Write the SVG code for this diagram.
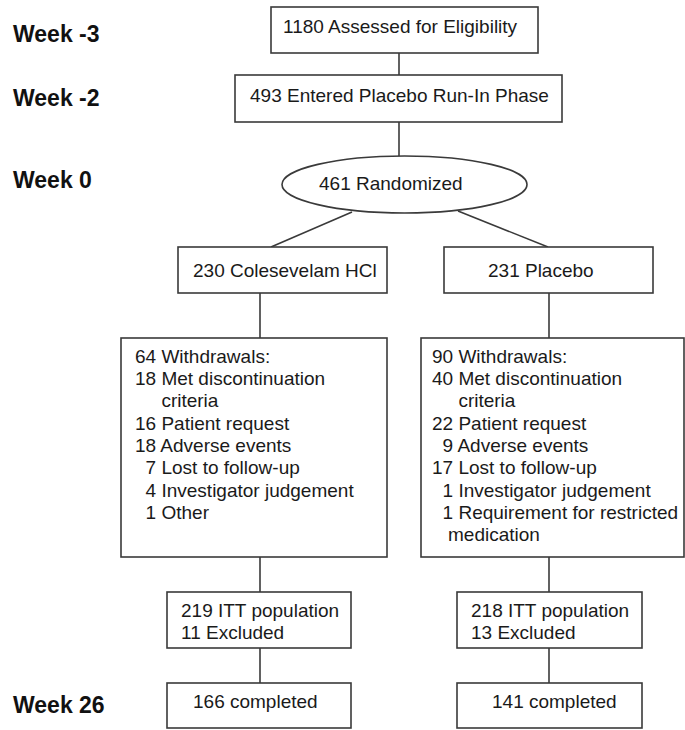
<svg xmlns="http://www.w3.org/2000/svg" width="685" height="730" viewBox="0 0 685 730">
<style>
.box{fill:#fff;stroke:#3a3a3a;stroke-width:1.6}
.ln{stroke:#3a3a3a;stroke-width:1.6;fill:none}
.t{font-family:"Liberation Sans",Arial,sans-serif;font-size:19px;fill:#1a1a1a}
.wk{font-family:"Liberation Sans",Arial,sans-serif;font-size:23px;font-weight:bold;fill:#111}
</style>
<rect width="685" height="730" fill="#fff"/>
<g id="week-labels">
<text class="wk" x="13" y="42">Week -3</text>
<text class="wk" x="13" y="106">Week -2</text>
<text class="wk" x="13" y="188">Week 0</text>
<text class="wk" x="13" y="713">Week 26</text>
</g>
<g id="connectors">
<line class="ln" x1="399" y1="53" x2="399" y2="75"/>
<line class="ln" x1="399" y1="122" x2="399" y2="156"/>
<line class="ln" x1="352" y1="212" x2="271" y2="247"/>
<line class="ln" x1="458" y1="211" x2="548" y2="247"/>
<line class="ln" x1="260" y1="293" x2="260" y2="338"/>
<line class="ln" x1="549" y1="293" x2="549" y2="338"/>
<line class="ln" x1="260" y1="557" x2="260" y2="592"/>
<line class="ln" x1="549" y1="557" x2="549" y2="592"/>
<line class="ln" x1="260" y1="648" x2="260" y2="683"/>
<line class="ln" x1="549" y1="648" x2="549" y2="683"/>
</g>
<g id="assessed">
<rect class="box" x="271" y="7" width="267" height="46"/>
<text class="t" x="283" y="33">1180 Assessed for Eligibility</text>
</g>
<g id="runin">
<rect class="box" x="235" y="75" width="327" height="47"/>
<text class="t" x="250" y="102">493 Entered Placebo Run-In Phase</text>
</g>
<g id="randomized">
<ellipse class="box" cx="404.5" cy="184.5" rx="122.5" ry="28.5"/>
<text class="t" x="319" y="190">461 Randomized</text>
</g>
<g id="colesevelam">
<rect class="box" x="178" y="247" width="209" height="46"/>
<text class="t" x="193" y="277">230 Colesevelam HCl</text>
</g>
<g id="placebo">
<rect class="box" x="444" y="247" width="209" height="46"/>
<text class="t" x="488" y="277">231 Placebo</text>
</g>
<g id="withdrawals-left">
<rect class="box" x="121" y="338" width="266" height="219"/>
<text class="t" x="135" y="363">64 Withdrawals:</text>
<text class="t" x="135" y="385">18 Met discontinuation</text>
<text class="t" x="161.4" y="407">criteria</text>
<text class="t" x="135" y="430">16 Patient request</text>
<text class="t" x="135" y="452">18 Adverse events</text>
<text class="t" x="145.6" y="474">7 Lost to follow-up</text>
<text class="t" x="145.6" y="497">4 Investigator judgement</text>
<text class="t" x="145.6" y="519">1 Other</text>
</g>
<g id="withdrawals-right">
<rect class="box" x="421" y="338" width="263" height="219"/>
<text class="t" x="432" y="363">90 Withdrawals:</text>
<text class="t" x="432" y="385">40 Met discontinuation</text>
<text class="t" x="458.4" y="407">criteria</text>
<text class="t" x="432" y="430">22 Patient request</text>
<text class="t" x="442.6" y="452">9 Adverse events</text>
<text class="t" x="432" y="474">17 Lost to follow-up</text>
<text class="t" x="442.6" y="497">1 Investigator judgement</text>
<text class="t" x="442.6" y="519">1 Requirement for restricted</text>
<text class="t" x="448" y="541">medication</text>
</g>
<g id="itt-left">
<rect class="box" x="167" y="592" width="184" height="56"/>
<text class="t" x="181" y="617">219 ITT population</text>
<text class="t" x="181" y="639">11 Excluded</text>
</g>
<g id="itt-right">
<rect class="box" x="457" y="592" width="185" height="56"/>
<text class="t" x="471" y="617">218 ITT population</text>
<text class="t" x="471" y="639">13 Excluded</text>
</g>
<g id="completed-left">
<rect class="box" x="167" y="683" width="184" height="45"/>
<text class="t" x="193" y="708">166 completed</text>
</g>
<g id="completed-right">
<rect class="box" x="457" y="683" width="185" height="45"/>
<text class="t" x="492" y="708">141 completed</text>
</g>
</svg>
